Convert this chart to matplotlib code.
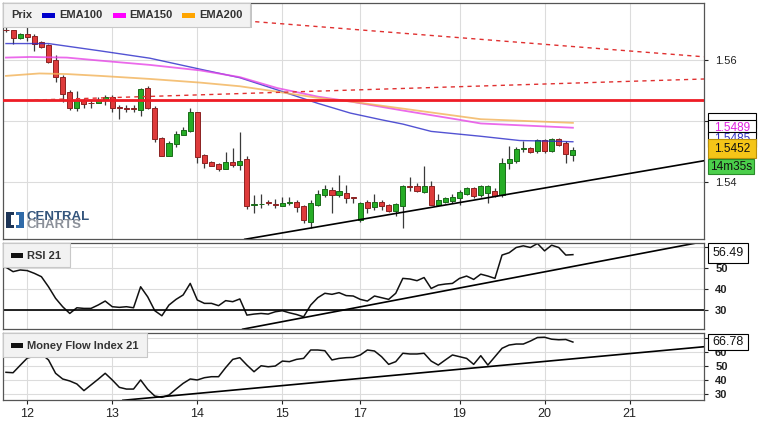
import numpy as np
import matplotlib.pyplot as plt
from matplotlib.patches import Rectangle

plt.rcParams['font.family'] = ['Liberation Sans', 'DejaVu Sans']

W, H = 774, 423

# 2h candles, index = candle number
opens = [1.5650, 1.5649, 1.5636, 1.5643, 1.5639, 1.5630, 1.5625, 1.5600, 1.5572, 1.5548,
         1.5521, 1.5534, 1.5530, 1.5529, 1.5534, 1.5540, 1.5523, 1.5521, 1.5521, 1.5518,
         1.5554, 1.5522, 1.5472, 1.5443, 1.5462, 1.5477, 1.5484, 1.5514, 1.5444, 1.5433,
         1.5430, 1.5422, 1.5433, 1.5428, 1.5437, 1.5363, 1.5364, 1.5367, 1.5364, 1.5361,
         1.5366, 1.5368, 1.5361, 1.5335, 1.5362, 1.5378, 1.5387, 1.5378, 1.5382, 1.5375,
         1.5337, 1.5367, 1.5359, 1.5367, 1.5362, 1.5353, 1.5361, 1.5393, 1.5393, 1.5384,
         1.5393, 1.5363, 1.5368, 1.5369, 1.5373, 1.5380, 1.5390, 1.5379, 1.5382, 1.5386,
         1.5379, 1.5431, 1.5435, 1.5454, 1.5456, 1.5451, 1.5469, 1.5451, 1.5470, 1.5464,
         1.5445]
highs = [1.5654, 1.5650, 1.5645, 1.5654, 1.5643, 1.5632, 1.5626, 1.5608, 1.5575, 1.5551,
         1.5550, 1.5537, 1.5534, 1.5540, 1.5543, 1.5542, 1.5526, 1.5526, 1.5526, 1.5554,
         1.5557, 1.5525, 1.5474, 1.5468, 1.5484, 1.5491, 1.5522, 1.5515, 1.5446, 1.5435,
         1.5431, 1.5450, 1.5455, 1.5482, 1.5443, 1.5378, 1.5381, 1.5370, 1.5372, 1.5376,
         1.5376, 1.5370, 1.5362, 1.5370, 1.5387, 1.5395, 1.5392, 1.5411, 1.5395, 1.5376,
         1.5368, 1.5370, 1.5381, 1.5370, 1.5364, 1.5365, 1.5395, 1.5408, 1.5398, 1.5426,
         1.5402, 1.5381, 1.5376, 1.5380, 1.5387, 1.5392, 1.5392, 1.5395, 1.5395, 1.5390,
         1.5439, 1.5459, 1.5457, 1.5468, 1.5458, 1.5470, 1.5470, 1.5472, 1.5472, 1.5467,
         1.5458]
lows = [1.5646, 1.5626, 1.5634, 1.5632, 1.5614, 1.5620, 1.5595, 1.5564, 1.5532, 1.5518,
        1.5517, 1.5521, 1.5522, 1.5529, 1.5526, 1.5514, 1.5504, 1.5515, 1.5515, 1.5509,
        1.5519, 1.5466, 1.5442, 1.5443, 1.5458, 1.5477, 1.5482, 1.5432, 1.5423, 1.5426,
        1.5418, 1.5421, 1.5425, 1.5420, 1.5355, 1.5350, 1.5357, 1.5362, 1.5357, 1.5360,
        1.5362, 1.5351, 1.5333, 1.5324, 1.5360, 1.5375, 1.5349, 1.5376, 1.5365, 1.5365,
        1.5335, 1.5349, 1.5354, 1.5354, 1.5351, 1.5344, 1.5324, 1.5386, 1.5384, 1.5382,
        1.5362, 1.5361, 1.5366, 1.5366, 1.5362, 1.5379, 1.5373, 1.5376, 1.5366, 1.5376,
        1.5376, 1.5421, 1.5432, 1.5450, 1.5448, 1.5447, 1.5447, 1.5450, 1.5459, 1.5432,
        1.5435]
closes = [1.5649, 1.5636, 1.5643, 1.5637, 1.5627, 1.5622, 1.5597, 1.5572, 1.5544, 1.5521,
          1.5534, 1.5528, 1.55295, 1.5534, 1.5540, 1.5521, 1.5522, 1.55205, 1.5520, 1.5552,
          1.5521, 1.5470, 1.5443, 1.5464, 1.5479, 1.5486, 1.5514, 1.5441, 1.5432, 1.5427,
          1.5422, 1.5433, 1.5428, 1.5435, 1.5360, 1.5364, 1.53645, 1.5366, 1.5362, 1.5366,
          1.5367, 1.5359, 1.5337, 1.5366, 1.5380, 1.5389, 1.5378, 1.5385, 1.5373, 1.5373,
          1.5365, 1.5357, 1.5368, 1.5360, 1.5353, 1.5364, 1.5393, 1.5392, 1.5386, 1.5393,
          1.5363, 1.5370, 1.5373, 1.5376, 1.5384, 1.5390, 1.5377, 1.5393, 1.5393, 1.5377,
          1.5432, 1.5437, 1.5454, 1.5455, 1.5450, 1.5469, 1.5451, 1.5470, 1.5461, 1.5446,
          1.5452]

# moving averages read at a few candles
ema100_idx = [0, 6, 13.3, 20.3, 27.4, 33, 38.3, 44, 48.6, 53, 56, 60, 67, 72.5, 77, 80]
ema100 = [1.5627, 1.5627, 1.5615, 1.5603, 1.5585, 1.5571, 1.5551, 1.5529, 1.5513, 1.5502,
          1.5495, 1.5483, 1.5475, 1.5468, 1.5467, 1.5466]
ema150_idx = [0, 3.4, 8.6, 13.3, 20.3, 27.4, 33, 38.3, 44, 48.6, 55.6, 64, 67, 80]
ema150 = [1.5604, 1.5605, 1.5604, 1.5599, 1.5592, 1.5583, 1.5572, 1.5554, 1.5540, 1.5532,
          1.5518, 1.5502, 1.5496, 1.5489]
ema200_idx = [0, 4.7, 8.6, 13.3, 20.3, 27.4, 33, 38.3, 44, 48.6, 55.6, 67, 80]
ema200 = [1.5574, 1.5578, 1.5577, 1.5574, 1.5569, 1.5563, 1.5557, 1.5548, 1.5538, 1.5532,
          1.5521, 1.5503, 1.5497]

rsi = [50.5, 48.4, 49.2, 48.9, 47.6, 46.0, 41.2, 35.7, 31.7, 28.5, 31.2, 30.9, 30.9, 32.5,
       34.4, 31.7, 31.4, 31.7, 31.2, 41.2, 36.4, 29.8, 27.4, 32.5, 35.2, 37.3, 42.8, 34.9,
       33.3, 33.3, 32.2, 34.6, 34.1, 35.4, 27.7, 28.2, 28.5, 28.2, 29.3, 29.8, 28.8, 28.0,
       26.9, 32.5, 36.0, 38.1, 37.6, 38.4, 37.0, 36.8, 35.2, 34.4, 36.8, 36.0, 35.2, 38.1,
       45.2, 44.9, 44.1, 45.6, 40.4, 42.0, 42.5, 42.8, 45.2, 46.3, 44.7, 47.2, 46.3, 45.2,
       56.3, 57.4, 59.9, 60.7, 59.9, 61.8, 58.3, 61.0, 59.9, 56.3, 56.5]
mfi = [45.5, 45.2, 50.4, 55.5, 56.8, 58.4, 54.2, 44.8, 40.8, 39.4, 37.3, 32.6, 36.6, 40.6,
       44.8, 40.1, 34.9, 33.7, 33.7, 40.1, 33.5, 28.8, 27.9, 29.5, 33.7, 37.7, 40.8, 40.1,
       41.7, 42.4, 42.4, 48.8, 54.6, 55.8, 50.6, 45.9, 50.1, 49.4, 49.9, 53.4, 53.0, 54.6,
       55.3, 61.2, 61.2, 60.7, 54.2, 55.3, 55.8, 56.0, 57.7, 61.2, 60.5, 56.5, 51.1, 53.0,
       58.9, 58.4, 58.4, 58.9, 53.4, 50.6, 54.2, 57.7, 56.5, 55.3, 51.1, 57.2, 50.6, 56.5,
       62.4, 64.7, 65.4, 65.4, 67.5, 70.0, 70.2, 68.8, 68.4, 68.6, 66.8]

# drawn lines (start / end points)
resist_level = 1.55344
dash_down = ([0, 98.5], [1.56948, 1.56053])
dash_up = ([4, 98.5], [1.55344, 1.55689])
support = ([33.7, 98.5], [1.53061, 1.54349])
rsi_trend = ([33.4, 97.2], [21.0, 61.9])
mfi_trend = ([16.5, 98.5], [25.8, 63.5])

day_ticks = [3, 15, 27, 39, 50, 64, 76, 88]
day_labels = ['12', '13', '14', '15', '17', '19', '20', '21']

fig = plt.figure(figsize=(W / 100, H / 100), dpi=100)


def axes_px(top, bottom):
    return fig.add_axes([3 / W, 1 - bottom / H, 701 / W, (bottom - top) / H])


ax = axes_px(3.3, 239.3)
ax_rsi = axes_px(243.3, 329.3)
ax_mfi = axes_px(333.3, 400)

for a in (ax, ax_rsi, ax_mfi):
    a.set_xlim(-0.42, 98.5)
    a.set_xticks(day_ticks)
    a.grid(True, color='#dcdcdc', lw=0.8)
    a.set_axisbelow(True)
    a.yaxis.tick_right()
    a.tick_params(axis='y', length=3, width=0.8, pad=5, labelsize=8, colors='#222222')
    for s in a.spines.values():
        s.set_color('#555555')
        s.set_linewidth(0.9)
for a in (ax, ax_rsi):
    a.tick_params(axis='x', length=0, labelbottom=False)
ax_mfi.set_xticklabels(day_labels)
ax_mfi.tick_params(axis='x', length=3, width=0.8, labelsize=9, pad=3, colors='#222222')

# candles
idx = np.arange(len(closes))
o = np.array(opens)
c = np.array(closes)
up = c >= o
ax.vlines(idx, lows, highs, color='#3a3a3a', lw=0.9, zorder=2)
ax.bar(idx, np.maximum(np.abs(c - o), 0.00004), bottom=np.minimum(o, c), width=0.72,
       color=['#26ad26' if u else '#de3b3b' for u in up],
       edgecolor=['#1a6b1a' if u else '#8c2222' for u in up], linewidth=0.7, zorder=3)

ax.plot(ema100_idx, ema100, color='#2828c8', lw=1.0, alpha=0.8, zorder=4)
ax.plot(ema150_idx, ema150, color='#e645e6', lw=1.3, alpha=0.8, zorder=4)
ax.plot(ema200_idx, ema200, color='#f2b257', lw=1.3, alpha=0.8, zorder=4)

ax.axhline(resist_level, color='#ee1c25', lw=2, zorder=5)
ax.plot(*dash_down, color='#e03030', lw=1, ls=(0, (3, 3)), zorder=5)
ax.plot(*dash_up, color='#e03030', lw=1, ls=(0, (3, 3)), zorder=5)
ax.plot(*support, color='black', lw=1.2, zorder=5)
ax.set_ylim(1.53061, 1.5693)
# the 1.55 label sits under the value boxes, so only its grid line shows
ax.set_yticks([1.54, 1.55, 1.56])
ax.set_yticklabels(['1.54', '', '1.56'])

# RSI
ax_rsi.plot(idx, rsi, color='#111111', lw=1.1)
ax_rsi.axhline(30, color='black', lw=1.2)
ax_rsi.plot(*rsi_trend, color='black', lw=1.2)
ax_rsi.set_ylim(20.95, 61.9)
ax_rsi.set_yticks([30, 40, 50, 60])
ax_rsi.set_yticklabels(['30', '40', '50', ''])

# MFI
ax_mfi.plot(idx, mfi, color='#111111', lw=1.1)
ax_mfi.plot(*mfi_trend, color='black', lw=1.2)
ax_mfi.set_ylim(26.0, 72.96)
ax_mfi.set_yticks([30, 40, 50, 60, 70])
ax_mfi.set_yticklabels(['30', '40', '50', '60', ''])
for a in (ax_rsi, ax_mfi):
    for t in a.get_yticklabels():
        t.set_fontweight('bold')

z = [10]


def box_px(x0, y0, w, h, fc, ec, text='', tc='#111111', fs=8.5, weight='normal', lw=0.8, tx=None):
    # x0, y0 = top-left corner in picture pixels
    z[0] += 2
    fig.patches.append(Rectangle((x0 / W, 1 - (y0 + h) / H), w / W, h / H, transform=fig.transFigure,
                                 facecolor=fc, edgecolor=ec, lw=lw, zorder=z[0]))
    if text:
        if tx is None:
            fig.text((x0 + w / 2) / W, 1 - (y0 + h / 2) / H, text, ha='center', va='center',
                     color=tc, fontsize=fs, fontweight=weight, zorder=z[0] + 1)
        else:
            fig.text(tx / W, 1 - (y0 + h / 2) / H, text, ha='left', va='center',
                     color=tc, fontsize=fs, fontweight=weight, zorder=z[0] + 1)


def ypix(a, v):
    return H - a.transData.transform((0, v))[1]


# value labels on the right
y_mag = ypix(ax, ema150[-1])
box_px(707.7, y_mag - 15, 48, 15, 'white', 'black')
box_px(707.7, y_mag - 7.5, 48, 15, 'white', 'black', '1.5489', '#e020e0', 8.5)
box_px(707.7, y_mag + 4, 48, 15, 'white', 'black', '1.5485', '#3030c0', 8.5)
y_last = ypix(ax, closes[-1])
box_px(707.7, y_last - 11, 48, 19, '#f5c518', '#b8900a', '1.5452', '#111111', 8.5)
box_px(707.7, y_last + 9, 46.5, 15, '#4bcf4b', '#2a8a2a', '14m35s', '#111111', 8.5)
box_px(707.7, ypix(ax_rsi, 56.49) - 11.5, 40.6, 19.4, 'white', 'black', '56.49', '#111111', 9)
box_px(707.7, ypix(ax_mfi, mfi[-1]) - 8, 40.6, 16, 'white', 'black', '66.78', '#111111', 9)

# legends
box_px(4.5, 4.5, 247, 23.4, '#c4c4c4', 'none', lw=0)
box_px(3.3, 3.3, 247, 23.4, '#f2f2f2', '#c8c8c8', 'Prix', '#333333', 8, 'bold', tx=11.7)
box_px(41.7, 12.7, 13.3, 5.6, '#0000cc', 'none', 'EMA100', '#333333', 8, 'bold', lw=0, tx=59)
box_px(113, 12.7, 13.3, 5.6, '#ff00ff', 'none', 'EMA150', '#333333', 8, 'bold', lw=0, tx=129)
box_px(182, 12.7, 13.3, 5.6, '#ffa500', 'none', 'EMA200', '#333333', 8, 'bold', lw=0, tx=199)

box_px(4.5, 244.5, 66.7, 23.4, '#c4c4c4', 'none', lw=0)
box_px(3.3, 243.3, 66.7, 23.4, '#f2f2f2', '#c8c8c8')
box_px(10.7, 252.7, 12, 5.6, '#111111', 'none', 'RSI 21', '#333333', 8, 'bold', lw=0, tx=27)

box_px(4.5, 334.5, 143.4, 23.4, '#c4c4c4', 'none', lw=0)
box_px(3.3, 333.3, 143.4, 23.4, '#f2f2f2', '#c8c8c8')
box_px(10.7, 342.7, 12, 5.6, '#111111', 'none', 'Money Flow Index 21', '#333333', 8, 'bold', lw=0, tx=27)

# logo
for (x0, y0, w, h, col) in [(6, 212.5, 5, 15, '#1d3557'), (6, 212.5, 8, 3, '#1d3557'),
                            (6, 224.5, 8, 3, '#1d3557'), (19, 212.5, 5, 15, '#2f6aa8'),
                            (16, 212.5, 8, 3, '#2f6aa8'), (16, 224.5, 8, 3, '#2f6aa8')]:
    box_px(x0, y0, w, h, col, 'none', lw=0)
fig.text(26.5 / W, 1 - 219.6 / H, 'CENTRAL', ha='left', va='baseline', fontsize=9.5,
         fontweight='bold', color='#34557c', zorder=60)
fig.text(26.5 / W, 1 - 228.0 / H, 'CHARTS', ha='left', va='baseline', fontsize=9.5,
         fontweight='bold', color='#8b9099', zorder=60)

fig.savefig('out.png', dpi=100, facecolor='white')
